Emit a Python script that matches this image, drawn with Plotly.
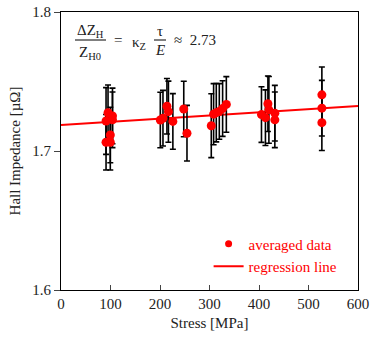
import plotly.graph_objects as go

# averaged data (stress in MPa, Hall impedance in µΩ)
stress = [91, 91, 95, 99.6, 99.6, 104, 104,
          200.6, 206, 214, 217, 226,
          248, 254.5,
          303.6, 308.3, 313.7, 319.8, 326.5, 334,
          405, 413, 418, 420, 432, 432,
          527, 527, 527]
impedance = [1.7216, 1.7063, 1.7275, 1.7115, 1.7063, 1.7252, 1.7224,
             1.7223, 1.7236, 1.7322, 1.7283, 1.7213,
             1.7302, 1.7128,
             1.7182, 1.7265, 1.7276, 1.7285, 1.7305, 1.7335,
             1.7262, 1.7240, 1.7340, 1.7296, 1.7272, 1.7224,
             1.7404, 1.7308, 1.7204]
error = [0.024, 0.020, 0.020, 0.020, 0.020, 0.020, 0.020,
         0.020, 0.020, 0.020, 0.022, 0.020,
         0.020, 0.020,
         0.023, 0.022, 0.021, 0.020, 0.020, 0.020,
         0.020, 0.020, 0.020, 0.024, 0.020, 0.020,
         0.020, 0.020, 0.020]

# regression line
reg_x = [0, 600]
reg_y = [1.7187, 1.7324]

x_ticks = [0, 100, 200, 300, 400, 500, 600]
y_ticks = [1.6, 1.7, 1.8]

FONT = "Liberation Serif"
RED = "#ff0000"

fig = go.Figure()
fig.add_trace(go.Scatter(
    x=reg_x, y=reg_y, mode="lines", name="regression line",
    line=dict(color=RED, width=2), showlegend=False))
fig.add_trace(go.Scatter(
    x=stress, y=impedance, mode="markers", name="averaged data",
    marker=dict(color=RED, size=9), showlegend=False,
    error_y=dict(type="data", array=error, visible=True,
                 color="black", thickness=1.6, width=3)))
# legend entries
fig.add_trace(go.Scatter(
    x=[None], y=[None], mode="markers", name="averaged data",
    marker=dict(color=RED, size=7)))
fig.add_trace(go.Scatter(
    x=[None], y=[None], mode="lines", name="regression line",
    line=dict(color=RED, width=2)))

fig.update_layout(
    width=370, height=343,
    margin=dict(l=61, r=12, t=12, b=53),
    paper_bgcolor="white", plot_bgcolor="white",
    font=dict(family=FONT, size=14, color="#222"),
    legend=dict(x=0.497, y=0.225, xanchor="left", yanchor="top",
                bgcolor="rgba(0,0,0,0)",
                font=dict(family=FONT, size=15, color=RED),
                tracegroupgap=0, itemwidth=30),
    xaxis=dict(range=[0, 600], tickvals=x_ticks, ticks="inside", ticklen=5,
               showline=True, linecolor="black", linewidth=1, mirror=True,
               showgrid=False, zeroline=False, automargin=False,
               ticklabeloverflow="allow",
               title=dict(text="Stress [MPa]", standoff=6, font=dict(size=15)),
               tickfont=dict(size=15)),
    yaxis=dict(range=[1.6, 1.8], tickvals=y_ticks, tickformat=".1f",
               ticks="outside", ticklen=6,
               showline=True, linecolor="black", linewidth=1, mirror=True,
               showgrid=False, zeroline=False, automargin=False,
               title=dict(text="Hall Impedance [µΩ]", standoff=8, font=dict(size=15)),
               tickfont=dict(size=15)),
)

def px2paper_x(px):
    return (px - 61) / 297.0

def px2paper_y(py):
    return (290 - py) / 278.0

fs = 15
anns = [
    ("ΔZ<sub>H</sub>", 90, 31),
    ("Z<sub>H0</sub>", 90, 53),
    ("=", 118, 40),
    ("κ<sub>Z</sub>", 139, 43),
    ("τ", 160, 31),
    ("<i>E</i>", 160, 50),
    ("≈  2.73", 195, 40),
]
for txt, x, y in anns:
    fig.add_annotation(text=txt, x=px2paper_x(x), y=px2paper_y(y),
                       xref="paper", yref="paper", showarrow=False,
                       xanchor="center", yanchor="middle",
                       font=dict(family=FONT, size=fs, color="#222"))
for x0, x1 in [(75, 106), (154, 166)]:
    fig.add_shape(type="line", xref="paper", yref="paper",
                  x0=px2paper_x(x0), x1=px2paper_x(x1),
                  y0=px2paper_y(40), y1=px2paper_y(40),
                  line=dict(color="black", width=1))

fig.write_html("out.html",
               config={"displayModeBar": False},
               post_script="document.body.style.margin='0';"
                           "document.body.style.overflow='hidden';")
